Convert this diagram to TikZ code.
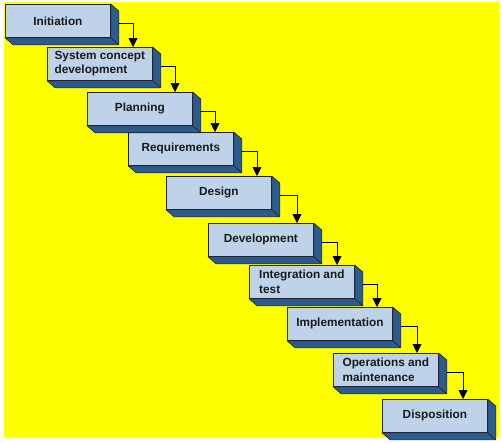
\documentclass[tikz,border=0pt]{standalone}
\usepackage{fontspec}
\setmainfont{Liberation Sans}
\usetikzlibrary{calc,arrows.meta}
\definecolor{frontblue}{RGB}{190,211,233}
\definecolor{sideblue}{RGB}{44,92,142}
\definecolor{edgecol}{RGB}{30,30,40}
\definecolor{bgyellow}{RGB}{255,255,0}
\tikzset{
  stagebox/.style={draw=edgecol, line width=0.7pt, fill=frontblue, anchor=north west,
    minimum width=105pt, minimum height=33pt, inner sep=0pt,
    font=\fontsize{11.8}{14.5}\selectfont\bfseries, text=black!90, align=left},
  sideface/.style={fill=sideblue, draw=edgecol, line width=0.6pt, line join=round},
  flow/.style={draw=black, line width=0.8pt, -{Triangle[width=9pt,length=9pt]}}
}
\newcommand\cubeface[1]{%
  \path[sideface] (#1.north east) -- ($(#1.north east)+(8,7)$) -- ($(#1.south east)+(8,7)$)
    -- ($(#1.south west)+(8,7)$) -- (#1.south west) -- (#1.south east) -- cycle;
  \draw[edgecol, line width=0.6pt] (#1.south east) -- ($(#1.south east)+(8,7)$);}
\begin{document}
\begin{tikzpicture}[x=1pt,y=-1pt]
\useasboundingbox (0,0) rectangle (502,442);
\fill[white] (0,0) rectangle (502,442);
\fill[bgyellow] (4,2) rectangle (499,437);
\node[stagebox] (b1) at (5,4) {Initiation};
\node[stagebox] (b2) at (47,47) {System concept\\development};
\node[stagebox] (b3) at (87,92) {Planning};
\node[stagebox] (b4) at (128,132) {Requirements};
\node[stagebox] (b5) at (166,176) {Design};
\node[stagebox] (b6) at (208,223) {Development};
\node[stagebox] (b7) at (249,265) {Integration and\\test};
\node[stagebox] (b8) at (287,307) {Implementation};
\node[stagebox] (b9) at (333,353) {Operations and\\maintenance};
\node[stagebox] (b10) at (382,399) {Disposition};
\foreach \n in {b1,b2,b3,b4,b5,b6,b7,b8,b9,b10} {\cubeface{\n}}
\foreach \a/\b/\o in {b1/b2/86,b2/b3/88,b3/b4/87,b4/b5/91,b5/b6/89,b6/b7/88,b7/b8/90,b8/b9/84,b9/b10/81}
  {\draw[flow] ($(\a.east)+(8,3)$) -| ($(\b.north west)+(\o,0)$);}
\end{tikzpicture}
\end{document}
